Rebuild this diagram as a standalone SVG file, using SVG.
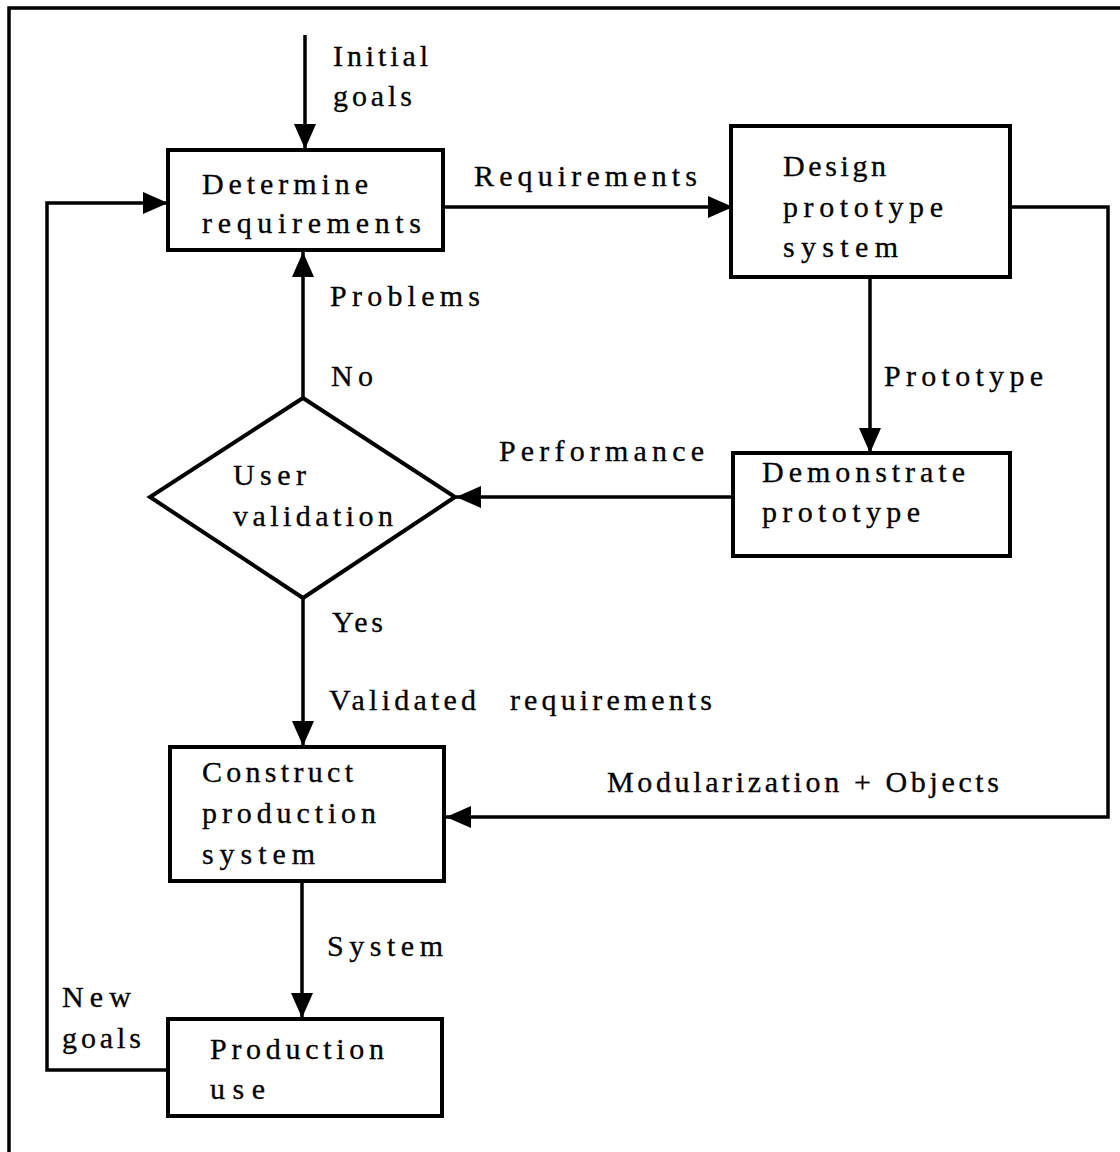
<svg xmlns="http://www.w3.org/2000/svg" width="1120" height="1152" viewBox="0 0 1120 1152">
  <defs>
    <marker id="arrow" viewBox="0 0 25 22" refX="25" refY="11" markerWidth="25" markerHeight="22" markerUnits="userSpaceOnUse" orient="auto">
      <path d="M0,0 L25,11 L0,22 z" fill="#000"/>
    </marker>
    <style>
      .box { fill: #fff; stroke: #000; stroke-width: 4; }
      .line { fill: none; stroke: #000; stroke-width: 3.5; }
      .arr { marker-end: url(#arrow); }
      text { font-family: "Liberation Serif", "Times New Roman", serif; font-size: 30px; fill: #000; stroke: #000; stroke-width: 0.3; }
    </style>
  </defs>
  <rect width="1120" height="1152" fill="#fff"/>

  <!-- page frame -->
  <path d="M9,1152 V8 H1120" fill="none" stroke="#000" stroke-width="3.5"/>

  <!-- connectors -->
  <g id="connectors">
    <path class="line arr" d="M305,35 V149"/>
    <path class="line arr" d="M444,207 H733"/>
    <path class="line arr" d="M1010,207 H1108 V817 H446"/>
    <path class="line arr" d="M870,277 V453"/>
    <path class="line arr" d="M733,497 H456"/>
    <path class="line arr" d="M303,398 V252"/>
    <path class="line arr" d="M303,598 V746"/>
    <path class="line arr" d="M302,881 V1018"/>
    <path class="line arr" d="M168,1070 H47 V203 H168"/>
  </g>

  <!-- connector labels -->
  <g id="labels">
    <text x="333" y="66" textLength="95" lengthAdjust="spacing">Initial</text>
    <text x="333" y="106" textLength="79" lengthAdjust="spacing">goals</text>
    <text x="474" y="186" textLength="223" lengthAdjust="spacing">Requirements</text>
    <text x="330" y="306" textLength="150" lengthAdjust="spacing">Problems</text>
    <text x="331" y="386" textLength="42" lengthAdjust="spacing">No</text>
    <text x="884" y="386" textLength="159" lengthAdjust="spacing">Prototype</text>
    <text x="499" y="461" textLength="205" lengthAdjust="spacing">Performance</text>
    <text x="332" y="632" textLength="51" lengthAdjust="spacing">Yes</text>
    <text x="329" y="710" textLength="147" lengthAdjust="spacing">Validated</text>
    <text x="510" y="710" textLength="202" lengthAdjust="spacing">requirements</text>
    <text x="607" y="792" textLength="392" lengthAdjust="spacing">Modularization + Objects</text>
    <text x="327" y="956" textLength="116" lengthAdjust="spacing">System</text>
    <text x="62" y="1007" textLength="69" lengthAdjust="spacing">New</text>
    <text x="62" y="1048" textLength="79" lengthAdjust="spacing">goals</text>
  </g>

  <!-- nodes -->
  <g id="determine-requirements">
    <rect class="box" x="168" y="150" width="275" height="100"/>
    <text x="202" y="194" textLength="166" lengthAdjust="spacing">Determine</text>
    <text x="202" y="233" textLength="219" lengthAdjust="spacing">requirements</text>
  </g>

  <g id="design-prototype">
    <rect class="box" x="731" y="126" width="279" height="151"/>
    <text x="783" y="176" textLength="103" lengthAdjust="spacing">Design</text>
    <text x="783" y="217" textLength="160" lengthAdjust="spacing">prototype</text>
    <text x="783" y="257" textLength="115" lengthAdjust="spacing">system</text>
  </g>

  <g id="demonstrate-prototype">
    <rect class="box" x="733" y="453" width="277" height="103"/>
    <text x="762" y="482" textLength="203" lengthAdjust="spacing">Demonstrate</text>
    <text x="762" y="522" textLength="158" lengthAdjust="spacing">prototype</text>
  </g>

  <g id="user-validation">
    <polygon class="box" points="303,398 455,497 303,598 150,497"/>
    <text x="233" y="485" textLength="73" lengthAdjust="spacing">User</text>
    <text x="233" y="526" textLength="160" lengthAdjust="spacing">validation</text>
  </g>

  <g id="construct-production">
    <rect class="box" x="170" y="747" width="274" height="134"/>
    <text x="202" y="782" textLength="151" lengthAdjust="spacing">Construct</text>
    <text x="202" y="823" textLength="174" lengthAdjust="spacing">production</text>
    <text x="202" y="864" textLength="113" lengthAdjust="spacing">system</text>
  </g>

  <g id="production-use">
    <rect class="box" x="168" y="1019" width="274" height="97"/>
    <text x="210" y="1059" textLength="174" lengthAdjust="spacing">Production</text>
    <text x="210" y="1099" textLength="55" lengthAdjust="spacing">use</text>
  </g>
</svg>
